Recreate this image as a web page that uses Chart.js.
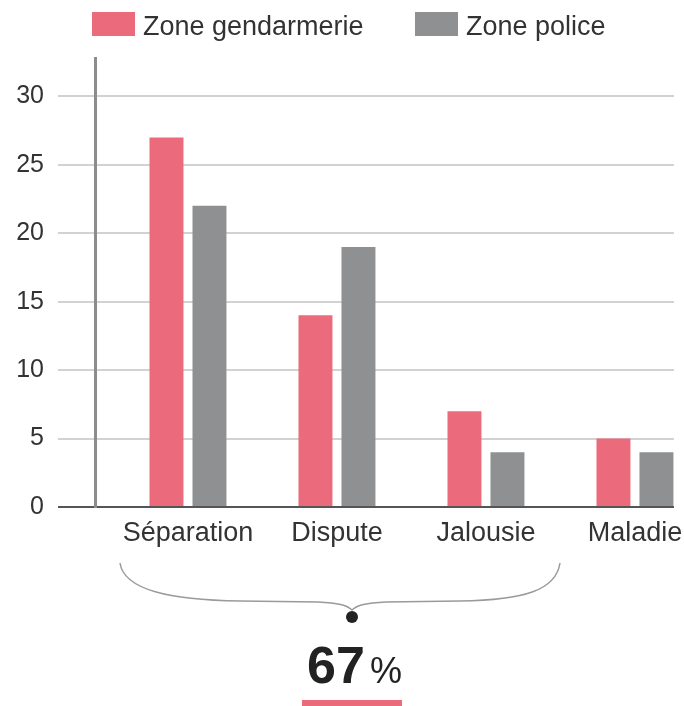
<!DOCTYPE html>
<html lang="fr">
<head>
<meta charset="utf-8">
<title>Motifs</title>
<script src="https://cdn.jsdelivr.net/npm/chart.js@4.4.1/dist/chart.umd.min.js"></script>
<style>
  body { margin: 0; background: #fff; font-family: "Liberation Sans", Arial, sans-serif; }
  #wrap { position: relative; width: 684px; height: 706px; }
  .item { position: absolute; top: 12px; height: 24px; display: flex; align-items: center; font-size: 27px; line-height: 24px; color: #333; white-space: nowrap; }
  .item .box { width: 43px; height: 24px; margin-right: 8px; }
  .item span { position: relative; top: 2px; }
</style>
</head>
<body>
<div id="wrap">
  <canvas id="chart"></canvas>
  <div id="legend"></div>
</div>
<script>
// chart data
const categories = ['Séparation', 'Dispute', 'Jalousie', 'Maladie'];
const gendarmerie = [27, 14, 7, 5];
const police = [22, 19, 4, 4];
const yTicks = [0, 5, 10, 15, 20, 25, 30];
const seriesNames = ['Zone gendarmerie', 'Zone police'];
const seriesColors = ['#eb6a7b', '#8f9092'];

const yFont = { family: '"Liberation Sans", Arial, sans-serif', size: 25 };
const xFont = { family: '"Liberation Sans", Arial, sans-serif', size: 27 };

// html legend, left aligned like the original
const legendLeft = [92, 415];
seriesNames.forEach((name, i) => {
    const item = document.createElement('div');
    item.className = 'item';
    item.style.left = legendLeft[i] + 'px';
    item.innerHTML = `<div class="box" style="background:${seriesColors[i]}"></div><span>${name}</span>`;
    document.getElementById('legend').appendChild(item);
});

// brace + 67% note under the first three categories
const braceNote = {
    id: 'braceNote',
    afterDraw(chart) {
        const ctx = chart.ctx;
        ctx.save();
        ctx.strokeStyle = '#9a9a9a';
        ctx.lineWidth = 1.5;
        ctx.beginPath();
        ctx.moveTo(120, 563);
        ctx.bezierCurveTo(124, 590, 170, 600, 240, 601);
        ctx.lineTo(318, 602);
        ctx.bezierCurveTo(338, 603, 347, 605, 352, 610);
        ctx.bezierCurveTo(357, 605, 366, 603, 386, 602);
        ctx.lineTo(460, 601);
        ctx.bezierCurveTo(525, 600, 556, 590, 560, 563);
        ctx.stroke();

        ctx.fillStyle = '#222';
        ctx.beginPath();
        ctx.arc(352, 617, 6, 0, Math.PI * 2);
        ctx.fill();

        ctx.textBaseline = 'alphabetic';
        ctx.textAlign = 'left';
        ctx.font = 'bold 52px "Liberation Sans", Arial, sans-serif';
        ctx.fillText('67', 307, 683);
        ctx.font = '36px "Liberation Sans", Arial, sans-serif';
        ctx.fillText('%', 370, 683);

        ctx.fillStyle = seriesColors[0];
        ctx.fillRect(302, 700, 100, 6);
        ctx.restore();
    }
};

const ctx = document.getElementById('chart').getContext('2d');
const chart = new Chart(ctx, {
    type: 'bar',
    data: {
        datasets: [
            { label: seriesNames[0], data: gendarmerie.map((v, i) => ({ x: i, y: v })), backgroundColor: seriesColors[0] },
            { label: seriesNames[1], data: police.map((v, i) => ({ x: i, y: v })), backgroundColor: seriesColors[1] }
        ]
    },
    options: {
        responsive: true,
        maintainAspectRatio: false,
        animation: false,
        categoryPercentage: 0.577,
        barPercentage: 0.79,
        layout: { padding: { top: 58, right: 10, bottom: 0, left: 0 } },
        plugins: {
            legend: { display: false },
            tooltip: { enabled: false }
        },
        scales: {
            x: {
                type: 'linear',
                offset: false,
                min: -0.624,
                max: 3.262,
                grid: { display: false, offset: false },
                border: { display: false },
                afterBuildTicks: scale => { scale.ticks = categories.map((c, i) => ({ value: i })); },
                afterFit: scale => {
                    scale.height = 199;
                    scale.paddingLeft = 0;
                    scale.paddingRight = 0;
                },
                ticks: {
                    callback: v => categories[v],
                    font: xFont,
                    color: '#333',
                    padding: 2,
                    maxRotation: 0,
                    autoSkip: false
                }
            },
            y: {
                min: 0,
                max: 32.8,
                afterBuildTicks: scale => { scale.ticks = yTicks.map(v => ({ value: v })); },
                afterFit: scale => { scale.width = 95; },
                grid: {
                    color: c => (c.tick && c.tick.value === 0) ? '#555' : '#d2d2d2',
                    lineWidth: 2,
                    tickLength: 37
                },
                border: { color: '#8c8c8c', width: 3 },
                ticks: { font: yFont, color: '#333', padding: 14 }
            }
        }
    },
    plugins: [braceNote]
});
</script>
</body>
</html>
